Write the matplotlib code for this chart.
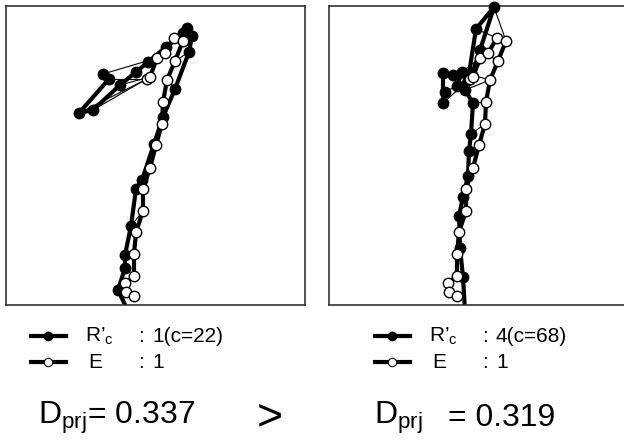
import numpy as np
import matplotlib
matplotlib.use("Agg")
import matplotlib.pyplot as plt

plt.rcParams['font.family'] = ['Liberation Sans', 'DejaVu Sans']
plt.rcParams['mathtext.fontset'] = 'custom'
plt.rcParams['mathtext.rm'] = 'Liberation Sans'
plt.rcParams['mathtext.it'] = 'Liberation Sans'

# stroke coordinates (box units, 0..299, y downwards)
rc_left_x = [97, 103, 73, 87, 114, 130, 142, 160, 177, 181, 186, 183, 169, 157, 148, 136, 130, 125, 119, 119, 112, 121]
rc_left_y = [68, 73, 107, 104, 79, 66, 56, 41, 27, 22, 30, 46, 83, 111, 138, 174, 183, 220, 249, 262, 284, 303]

rc_right_x = [116, 114, 114, 124, 133, 128, 139, 147, 165, 151, 143, 136, 144, 142, 140, 139, 134, 130, 131, 134, 136]
rc_right_y = [86, 97, 67, 69, 66, 80, 74, 23, 1, 44, 69, 84, 97, 128, 145, 170, 191, 210, 242, 271, 305]

e_x = [141, 144, 151, 159, 168, 177, 169, 161, 157, 156, 150, 144, 137, 137, 130, 128, 128, 119, 120, 128]
e_y = [73, 71, 52, 47, 32, 35, 55, 74, 96, 118, 139, 162, 183, 205, 226, 248, 270, 277, 286, 290]

# matched point pairs (R'c index, E index)
match_left = [(0, 2), (1, 0), (2, 0), (3, 1), (4, 1), (5, 2), (6, 3), (7, 4), (8, 4), (9, 5),
              (10, 5), (11, 6), (12, 7), (13, 8), (14, 10), (15, 11), (16, 12), (17, 13),
              (18, 15), (19, 16), (20, 18)]
match_right = [(0, 0), (1, 0), (2, 1), (3, 1), (4, 2), (5, 1), (6, 3), (7, 4), (8, 5), (9, 6),
               (10, 7), (11, 7), (12, 8), (13, 9), (14, 10), (15, 11), (16, 12), (17, 13),
               (18, 15), (19, 16)]

labels = ["1(c=22)", "4(c=68)"]
d_values = [0.337, 0.319]

W, H = 624, 446
fig = plt.figure(figsize=(W / 100, H / 100), dpi=100)


def draw_panel(left_px, rx, ry, matches):
    ax = fig.add_axes([left_px / W, 1 - 305 / H, 299 / W, 299 / H])
    ax.set_xlim(0, 299)
    ax.set_ylim(299, 0)
    ax.set_xticks([])
    ax.set_yticks([])
    for s in ax.spines.values():
        s.set_linewidth(1.2)
        s.set_color('#333333')
    rx, ry = np.array(rx), np.array(ry)
    ex, ey = np.array(e_x), np.array(e_y)
    for i, j in matches:
        ax.plot([rx[i], ex[j]], [ry[i], ey[j]], color='black', lw=0.8, zorder=1)
    ax.plot(rx, ry, color='black', lw=3, zorder=2)
    inside = ry <= 299
    ax.plot(rx[inside], ry[inside], 'o', color='black', ms=7.5, clip_on=False, zorder=3)
    ax.plot(ex, ey, color='black', lw=3, zorder=4)
    ax.plot(ex, ey, 'o', mfc='white', mec='black', mew=1.0, ms=7.5, clip_on=False, zorder=5)
    return ax


draw_panel(6, rc_left_x, rc_left_y, match_left)
draw_panel(329, rc_right_x, rc_right_y, match_right)

# overlay for legend and D values (pixel coordinates)
ov = fig.add_axes([0, 0, 1, 1])
ov.set_xlim(0, W)
ov.set_ylim(H, 0)
ov.axis('off')

for x0, lab in zip([31, 375], labels):
    ov.plot([x0, x0 + 35], [336, 336], color='black', lw=3)
    ov.plot([x0 + 17], [336], 'o', color='black', ms=6)
    ov.plot([x0, x0 + 35], [362, 362], color='black', lw=3)
    ov.plot([x0 + 17], [362], 'o', mfc='white', mec='black', mew=0.8, ms=6)
    ov.text(x0 + 54, 336, "R’$_{\\mathrm{c}}$", fontsize=15, va='center')
    ov.text(x0 + 107, 336, ":", fontsize=15, va='center')
    ov.text(x0 + 121, 336, lab, fontsize=15, va='center')
    ov.text(x0 + 57, 362, "E", fontsize=15, va='center')
    ov.text(x0 + 107, 362, ":", fontsize=15, va='center')
    ov.text(x0 + 121, 362, "1", fontsize=15, va='center')

ov.text(38, 418, "D$_{\\mathrm{prj}}$= %.3f" % d_values[0], fontsize=23, va='center')
ov.text(270, 418, ">", fontsize=32, va='center', ha='center')
ov.text(374, 418, "D$_{\\mathrm{prj}}$", fontsize=23, va='center')
ov.text(448, 418, "= %.3f" % d_values[1], fontsize=23, va='center')

fig.savefig("out.png", dpi=100)
